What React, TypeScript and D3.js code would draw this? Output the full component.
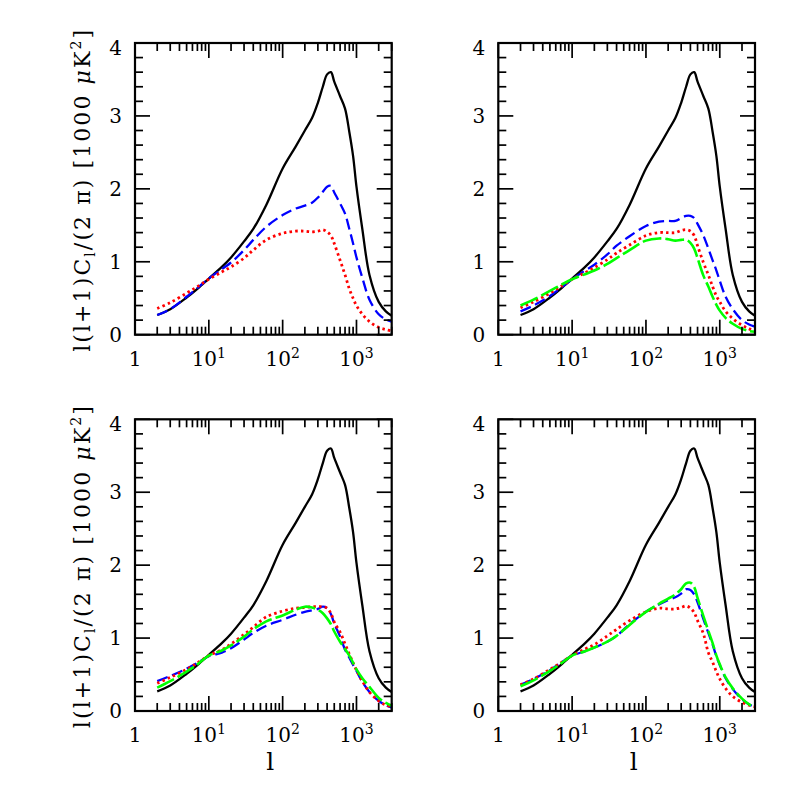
import * as d3 from "d3";

type Pt = { l: number; v: number };

// multipole grid shared by every curve
const ells = [2, 3, 5, 7, 10, 15, 20, 30, 40, 60, 100, 150, 200, 250, 300, 350, 400, 450, 500, 600, 700, 800, 900, 1000, 1200, 1500, 2000, 2500, 3000];

// reference model (solid black, same in every panel)
const base = [0.27, 0.35, 0.51, 0.63, 0.77, 0.93, 1.06, 1.28, 1.45, 1.78, 2.28, 2.58, 2.8, 2.97, 3.18, 3.4, 3.57, 3.6, 3.47, 3.27, 3.1, 2.78, 2.45, 2.03, 1.45, 0.82, 0.45, 0.32, 0.26];

// panel 1 (top left)
const p1Blue = [0.27, 0.35, 0.52, 0.64, 0.77, 0.9, 0.99, 1.16, 1.3, 1.48, 1.64, 1.73, 1.77, 1.81, 1.88, 1.96, 2.03, 2.04, 1.95, 1.8, 1.66, 1.45, 1.25, 1.06, 0.78, 0.48, 0.28, 0.21, 0.18];
const p1Red = [0.36, 0.44, 0.57, 0.66, 0.76, 0.86, 0.93, 1.05, 1.16, 1.3, 1.39, 1.42, 1.42, 1.41, 1.42, 1.44, 1.41, 1.36, 1.25, 1.02, 0.82, 0.63, 0.5, 0.4, 0.28, 0.18, 0.1, 0.07, 0.05];

// panel 2 (top right)
const p2Blue = [0.32, 0.4, 0.53, 0.64, 0.76, 0.88, 0.96, 1.1, 1.22, 1.35, 1.49, 1.55, 1.56, 1.56, 1.6, 1.63, 1.63, 1.6, 1.52, 1.36, 1.18, 1.02, 0.88, 0.74, 0.52, 0.35, 0.2, 0.14, 0.11];
const p2Red = [0.37, 0.45, 0.57, 0.66, 0.76, 0.85, 0.92, 1.03, 1.12, 1.23, 1.36, 1.4, 1.4, 1.4, 1.43, 1.44, 1.42, 1.36, 1.22, 0.99, 0.82, 0.66, 0.53, 0.45, 0.32, 0.22, 0.13, 0.08, 0.05];
const p2Green = [0.4, 0.48, 0.6, 0.68, 0.76, 0.83, 0.88, 0.97, 1.05, 1.16, 1.29, 1.32, 1.31, 1.29, 1.3, 1.3, 1.26, 1.18, 1.05, 0.81, 0.66, 0.52, 0.41, 0.33, 0.23, 0.15, 0.08, 0.05, 0.04];

// panel 3 (bottom left)
const p3Blue = [0.41, 0.48, 0.58, 0.66, 0.75, 0.8, 0.86, 0.98, 1.07, 1.17, 1.25, 1.32, 1.36, 1.38, 1.4, 1.43, 1.41, 1.33, 1.2, 1.02, 0.84, 0.73, 0.63, 0.55, 0.4, 0.26, 0.14, 0.08, 0.05];
const p3Red = [0.38, 0.46, 0.57, 0.66, 0.76, 0.84, 0.92, 1.05, 1.15, 1.29, 1.37, 1.41, 1.42, 1.43, 1.43, 1.43, 1.41, 1.34, 1.22, 1.08, 0.92, 0.78, 0.66, 0.56, 0.41, 0.26, 0.14, 0.08, 0.06];
const p3Green = [0.32, 0.41, 0.54, 0.64, 0.76, 0.83, 0.9, 1.02, 1.12, 1.23, 1.31, 1.39, 1.43, 1.42, 1.39, 1.34, 1.27, 1.19, 1.09, 0.95, 0.85, 0.76, 0.66, 0.57, 0.45, 0.33, 0.18, 0.11, 0.07];

// panel 4 (bottom right)
const p4Blue = [0.36, 0.44, 0.56, 0.66, 0.76, 0.82, 0.87, 0.95, 1.03, 1.19, 1.36, 1.46, 1.52, 1.56, 1.61, 1.67, 1.66, 1.6, 1.49, 1.26, 1.07, 0.91, 0.75, 0.63, 0.45, 0.3, 0.16, 0.09, 0.05];
const p4Red = [0.36, 0.44, 0.57, 0.66, 0.76, 0.85, 0.91, 1.03, 1.12, 1.24, 1.36, 1.41, 1.4, 1.4, 1.42, 1.44, 1.41, 1.35, 1.24, 1.06, 0.8, 0.67, 0.54, 0.44, 0.31, 0.2, 0.12, 0.08, 0.06];
const p4Green = [0.34, 0.42, 0.55, 0.65, 0.76, 0.82, 0.87, 0.95, 1.03, 1.18, 1.36, 1.47, 1.54, 1.6, 1.67, 1.75, 1.76, 1.7, 1.55, 1.3, 1.1, 0.93, 0.76, 0.64, 0.46, 0.31, 0.17, 0.09, 0.05];

const xTickLabels = ["1", "10", "10", "10"];
const xTickPowers = ["", "1", "2", "3"];
const yTickLabels = ["0", "1", "2", "3", "4"];

const W = 797;
const H = 797;
const panelW = 256.7;
const panelH = 291.7;
const lefts = [135, 498.3];
const tops = [43, 419.3];

const styles = {
  blue: { stroke: "#0000ff", dash: "11 5", width: 2.3 },
  red: { stroke: "#ff0000", dash: "2.5 3.2", width: 2.8 },
  green: { stroke: "#00ff00", dash: "19 4", width: 2.6 },
};

type Series = { vals: number[]; kind: keyof typeof styles };

const panels: { col: number; row: number; series: Series[] }[] = [
  { col: 0, row: 0, series: [{ vals: p1Blue, kind: "blue" }, { vals: p1Red, kind: "red" }] },
  { col: 1, row: 0, series: [{ vals: p2Blue, kind: "blue" }, { vals: p2Red, kind: "red" }, { vals: p2Green, kind: "green" }] },
  { col: 0, row: 1, series: [{ vals: p3Blue, kind: "blue" }, { vals: p3Red, kind: "red" }, { vals: p3Green, kind: "green" }] },
  { col: 1, row: 1, series: [{ vals: p4Blue, kind: "blue" }, { vals: p4Red, kind: "red" }, { vals: p4Green, kind: "green" }] },
];

const toPts = (vals: number[]): Pt[] => ells.map((l, i) => ({ l, v: vals[i] }));

const font = "'DejaVu Serif', serif";

const Panel = ({ col, row, series }: { col: number; row: number; series: Series[] }) => {
  const x0 = lefts[col];
  const y0 = tops[row];
  const x = d3.scaleLog().domain([1, 3000]).range([0, panelW]);
  const y = d3.scaleLinear().domain([0, 4]).range([panelH, 0]);
  const line = d3
    .line<Pt>()
    .x((d) => x(d.l))
    .y((d) => y(d.v))
    .curve(d3.curveCatmullRom.alpha(0.5));

  const majorX = [1, 10, 100, 1000];
  const minorX: number[] = [];
  for (const dec of [1, 10, 100, 1000])
    for (let k = 2; k <= 9; k++) if (dec * k <= 3000) minorX.push(dec * k);
  const majorY = d3.range(0, 5);
  const minorY = d3.range(0, 4.01, 0.2).filter((v) => Math.abs(v - Math.round(v)) > 1e-6);

  const big = 15;
  const small = 8;

  return (
    <g transform={`translate(${x0},${y0})`}>
      <path d={line(toPts(base)) ?? ""} fill="none" stroke="#000" strokeWidth={2.3} />
      {series.map((s, i) => (
        <path
          key={i}
          d={line(toPts(s.vals)) ?? ""}
          fill="none"
          stroke={styles[s.kind].stroke}
          strokeWidth={styles[s.kind].width}
          strokeDasharray={styles[s.kind].dash}
        />
      ))}
      {/* ticks on all four sides */}
      <g stroke="#000" strokeWidth={1.7}>
        {majorX.map((t) => (
          <g key={"mx" + t}>
            <line x1={x(t)} x2={x(t)} y1={panelH} y2={panelH - big} />
            <line x1={x(t)} x2={x(t)} y1={0} y2={big} />
          </g>
        ))}
        {minorX.map((t) => (
          <g key={"nx" + t}>
            <line x1={x(t)} x2={x(t)} y1={panelH} y2={panelH - small} />
            <line x1={x(t)} x2={x(t)} y1={0} y2={small} />
          </g>
        ))}
        {majorY.map((t) => (
          <g key={"my" + t}>
            <line x1={0} x2={big} y1={y(t)} y2={y(t)} />
            <line x1={panelW} x2={panelW - big} y1={y(t)} y2={y(t)} />
          </g>
        ))}
        {minorY.map((t) => (
          <g key={"ny" + t}>
            <line x1={0} x2={small} y1={y(t)} y2={y(t)} />
            <line x1={panelW} x2={panelW - small} y1={y(t)} y2={y(t)} />
          </g>
        ))}
      </g>
      <rect x={0} y={0} width={panelW} height={panelH} fill="none" stroke="#000" strokeWidth={2.2} />
      <g fontFamily={font} fontSize={20} fill="#000">
        {majorY.map((t, i) => (
          <text key={"ly" + t} x={-13} y={y(t) + 7 + (t === 4 ? 5 : 0)} textAnchor="end">
            {yTickLabels[i]}
          </text>
        ))}
        {majorX.map((t, i) => (
          <text key={"lx" + t} x={x(t)} y={panelH + 31} textAnchor="middle">
            {xTickLabels[i]}
            {xTickPowers[i] && (
              <tspan fontSize={14} dy={-8}>
                {xTickPowers[i]}
              </tspan>
            )}
          </text>
        ))}
      </g>
      {col === 0 && (
        <text
          transform={`translate(-45,${panelH / 2 + 2}) rotate(-90)`}
          textAnchor="middle"
          fontFamily={font}
          fontSize={22}
          textLength={322}
          lengthAdjust="spacing"
        >
          l(l+1)C<tspan fontSize={14} dy={5}>l</tspan>
          <tspan dy={-5}>/(2 π)  [1000 </tspan>
          <tspan fontStyle="italic">μ</tspan>K<tspan fontSize={14} dy={-9}>2</tspan>
          <tspan dy={9}>]</tspan>
        </text>
      )}
      {row === 1 && (
        <text x={panelW / 2 + 7} y={panelH + 59} textAnchor="middle" fontFamily={font} fontSize={25}>
          l
        </text>
      )}
    </g>
  );
};

const App = () => (
  <svg
    width={W}
    height={H}
    style={{ position: "absolute", left: 0, top: 0, background: "#fff" }}
  >
    <rect width={W} height={H} fill="#fff" />
    {panels.map((p, i) => (
      <Panel key={i} {...p} />
    ))}
  </svg>
);

export default App;
